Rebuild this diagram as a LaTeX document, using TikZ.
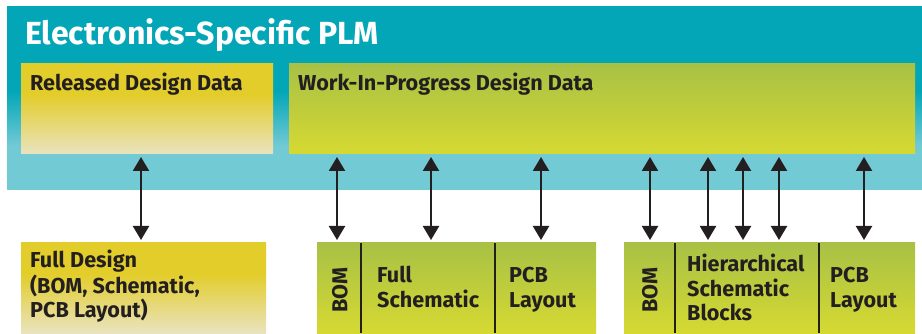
\documentclass[tikz,border=0pt]{standalone}
\usepackage{fontspec}
\setmainfont{Fira Sans}
\usetikzlibrary{arrows.meta}
\definecolor{ink}{HTML}{231F20}
\definecolor{tealT}{HTML}{03A6B7}
\definecolor{tealB}{HTML}{72CAD5}
\definecolor{yelT}{HTML}{E3CD2A}
\definecolor{yelB}{HTML}{E9E3BF}
\definecolor{grnT}{HTML}{A8C145}
\definecolor{grnB}{HTML}{D6D932}
\pgfdeclareverticalshading{tealsh}{100bp}{color(0bp)=(tealB); color(25bp)=(tealB); color(37bp)=(tealB); color(52bp)=(tealT); color(100bp)=(tealT)}
\pgfdeclareverticalshading{yelsh}{100bp}{color(0bp)=(yelB); color(25bp)=(yelB); color(58bp)=(yelT); color(100bp)=(yelT)}
\begin{document}
\begin{tikzpicture}[x=1pt,y=-1pt,
  box/.style={draw=none, inner sep=0pt, outer sep=0pt, anchor=north west},
  lbl/.style={anchor=base west, inner sep=0pt, text=ink, font=\fontsize{21.6}{25}\selectfont\bfseries},
  dbl/.style={{Triangle[width=16pt,length=14pt]}-{Triangle[width=16pt,length=14pt]}, line width=2.2pt, draw=ink, shorten <=3pt, shorten >=3pt},
  divider/.style={line width=2pt, draw=ink}]
\useasboundingbox (0,0) rectangle (922,334);
% top band
\node[box, shading=tealsh, minimum width=915pt, minimum height=183pt] (plm) at (7,7) {};
\node[anchor=base west, inner sep=0pt, text=white, font=\fontsize{32}{38}\selectfont\bfseries] (title) at (25,45) {Electronics-Specific PLM};
\node[box, shading=yelsh, minimum width=252pt, minimum height=90pt] (rel) at (21,64) {};
\node[lbl] (reltxt) at (30,91) {Released Design Data};
\node[box, top color=grnT, bottom color=grnB, minimum width=626pt, minimum height=90pt] (wip) at (289,64) {};
\node[lbl] (wiptxt) at (298,91) {Work-In-Progress Design Data};
% bottom: full design
\node[box, shading=yelsh, minimum width=245pt, minimum height=90pt] (fd) at (21,243) {};
\node[lbl] (fdtxt) at (30,268) {\parbox[t]{230pt}{Full Design\\(BOM, Schematic,\\PCB Layout)}};
% bottom: group 2
\node[box, top color=grnT, bottom color=grnB, minimum width=44pt, minimum height=90pt] (bom1) at (317,243) {};
\node[box, top color=grnT, bottom color=grnB, minimum width=134pt, minimum height=90pt] (fs) at (361,243) {};
\node[box, top color=grnT, bottom color=grnB, minimum width=101pt, minimum height=90pt] (pcb1) at (495,243) {};
\draw[divider] (bom1.north east) -- (bom1.south east);
\draw[divider] (fs.north east) -- (fs.south east);
\node[lbl, anchor=center, rotate=90] (bomtxt1) at (340,290) {BOM};
\node[lbl] (fstxt) at (377,282) {\parbox[t]{120pt}{Full\\Schematic}};
\node[lbl] (pcbtxt1) at (509,282) {\parbox[t]{90pt}{PCB\\Layout}};
% bottom: group 3
\node[box, top color=grnT, bottom color=grnB, minimum width=51pt, minimum height=90pt] (bom2) at (624,243) {};
\node[box, top color=grnT, bottom color=grnB, minimum width=144pt, minimum height=90pt] (hsb) at (675,243) {};
\node[box, top color=grnT, bottom color=grnB, minimum width=96pt, minimum height=90pt] (pcb2) at (819,243) {};
\draw[divider] (bom2.north east) -- (bom2.south east);
\draw[divider] (hsb.north east) -- (hsb.south east);
\node[lbl, anchor=center, rotate=90] (bomtxt2) at (650,290) {BOM};
\node[lbl] (hsbtxt) at (687,271) {\parbox[t]{130pt}{Hierarchical\\Schematic\\Blocks}};
\node[lbl] (pcbtxt2) at (830,282) {\parbox[t]{85pt}{PCB\\Layout}};
% arrows
\coordinate (c1) at (141,0);
\coordinate (c2) at (337,0);
\coordinate (c3) at (431,0);
\coordinate (c4) at (541,0);
\coordinate (c5) at (650,0);
\coordinate (c6) at (708,0);
\coordinate (c7) at (743,0);
\coordinate (c8) at (779,0);
\coordinate (c9) at (864,0);
\draw[dbl] (rel.south -| c1) -- (fd.north -| c1);
\draw[dbl] (wip.south -| c2) -- (bom1.north -| c2);
\draw[dbl] (wip.south -| c3) -- (fs.north -| c3);
\draw[dbl] (wip.south -| c4) -- (pcb1.north -| c4);
\draw[dbl] (wip.south -| c5) -- (bom2.north -| c5);
\draw[dbl] (wip.south -| c6) -- (hsb.north -| c6);
\draw[dbl] (wip.south -| c7) -- (hsb.north -| c7);
\draw[dbl] (wip.south -| c8) -- (hsb.north -| c8);
\draw[dbl] (wip.south -| c9) -- (pcb2.north -| c9);
\end{tikzpicture}
\end{document}
